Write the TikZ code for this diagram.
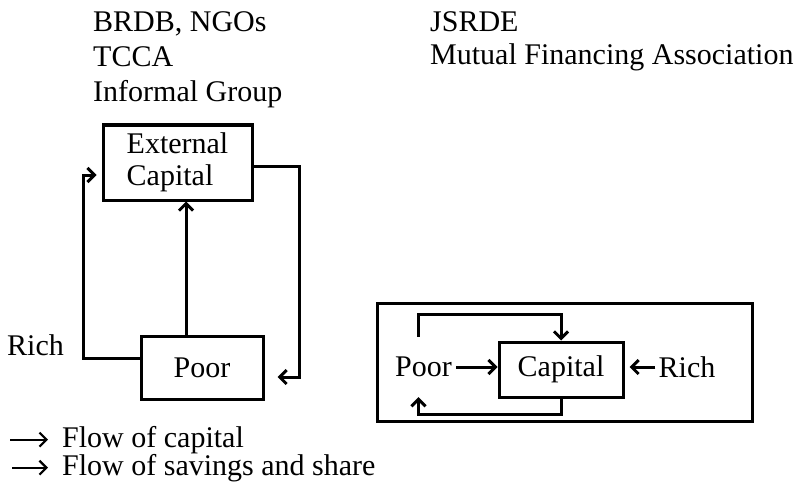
\documentclass[tikz,border=0pt]{standalone}
\usepackage{fontspec}
\setmainfont{Liberation Serif}
\usetikzlibrary{arrows.meta,calc,positioning}
\tikzset{flowline/.style={line width=3pt,-{Straight Barb[length=7pt,width=14pt]}}}
\begin{document}
\begin{tikzpicture}[x=1pt,y=-1pt,
  every node/.style={font=\fontsize{30}{32}\selectfont},
  txt/.style={anchor=base west,inner sep=0pt},
  box/.style={draw,line width=3pt,inner sep=0pt}]
  \useasboundingbox (0,0) rectangle (797,492);
  \node[txt] (brdb) at (93,32) {BRDB, NGOs};
  \node[txt] (tcca) at (93,67) {TCCA};
  \node[txt] (infg) at (93,102) {Informal Group};
  \node[txt] (jsrde) at (430,32) {JSRDE};
  \node[txt] (mfa) at (430,65) {Mutual Financing Association};
  \node[box,minimum width=149pt,minimum height=75pt,align=left] (ext) at (177.5,162.5) {External\\Capital};
  \node[box,minimum width=122pt,minimum height=63pt] (poor) at (202,367.5) {Poor};
  \node[txt] (rich) at (7,355) {Rich};
  \coordinate (upx) at (186,0);
  \draw[flowline] (poor.north -| upx) -- (ext.south -| upx);
  \draw[flowline,shorten >=5pt] ([yshift=9.5pt]poor.west) -| ([xshift=-18pt,yshift=-12.5pt]ext.west) -- ([yshift=-12.5pt]ext.west);
  \draw[flowline,shorten >=13pt] ([yshift=-3.5pt]ext.east) -- ++(46,0) |- ([yshift=-9.5pt]poor.east);
  \draw[line width=3pt] (377,303) rectangle (752,421);
  \node[box,minimum width=124pt,minimum height=55pt] (capb) at (561,369.5) {Capital};
  \node[inner xsep=4pt,inner ysep=20pt] (poorb) at (423.5,367) {Poor};
  \node[inner xsep=3pt,inner ysep=0pt] (richb) at (687,367) {Rich};
  \draw[flowline] (poorb.east) -- (poorb.east -| capb.west);
  \draw[flowline,shorten >=5pt] (richb.west) -- (richb.west -| capb.east);
  \draw[flowline] ([xshift=-5pt]poorb.north) -- ++(0,-22) -| (capb.north);
  \draw[flowline] (capb.south) -- ++(0,16) -| ([xshift=-5pt]poorb.south);
  \node[txt] (leg1) at (62,447) {Flow of capital};
  \node[txt] (leg2) at (62,475) {Flow of savings and share};
  \draw[flowline,line width=2.2pt] ([xshift=-52pt]leg1.west) -- ([xshift=-14pt]leg1.west);
  \draw[flowline,line width=2.2pt] ([xshift=-50pt]leg2.west) -- ([xshift=-14pt]leg2.west);
\end{tikzpicture}
\end{document}
